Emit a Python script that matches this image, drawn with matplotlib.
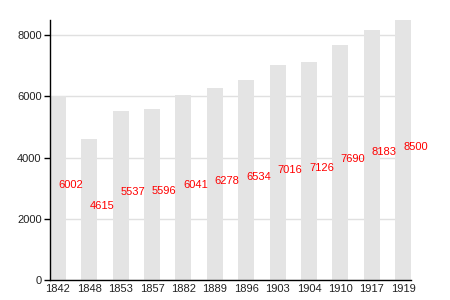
import numpy as np
import matplotlib
matplotlib.use("Agg")
import matplotlib.pyplot as plt

# data
years = ["1842", "1848", "1853", "1857", "1882", "1889", "1896",
         "1903", "1904", "1910", "1917", "1919"]
population = [6002, 4615, 5537, 5596, 6041, 6278, 6534,
              7016, 7126, 7690, 8183, 8500]

plt.rcParams['font.family'] = ['Liberation Sans', 'DejaVu Sans']

fig = plt.figure(figsize=(4.5, 3), dpi=100)
ax = fig.add_axes([50/450, 20/300, 361/450, 260/300])

x = np.arange(len(years))
w = 0.51
ax.bar(x, population, width=w, align='edge', color='#e4e4e4', zorder=2)

# labels: left edge at bar centre, baseline at half height
for xi, v in zip(x, population):
    ax.text(xi + w/2, v/2, str(v), color='red', fontsize=8,
            ha='left', va='baseline', zorder=3)

ax.set_xlim(0, len(years) - 1 + w)
ax.set_ylim(0, 8500)
ax.set_yticks([0, 2000, 4000, 6000, 8000])
ax.set_xticks(x + w/2)
ax.set_xticklabels(years)
ax.yaxis.grid(True, color='#e0e0e0', linewidth=1, zorder=0)
ax.set_axisbelow(True)

for s in ['top', 'right']:
    ax.spines[s].set_visible(False)
ax.spines['left'].set_linewidth(1)
ax.spines['bottom'].set_linewidth(1)
ax.tick_params(axis='x', length=0, pad=3, labelsize=8, labelcolor='#222222')
ax.tick_params(axis='y', length=4, width=1, pad=2, labelsize=8, labelcolor='#222222')

fig.savefig("out.png", dpi=100)
